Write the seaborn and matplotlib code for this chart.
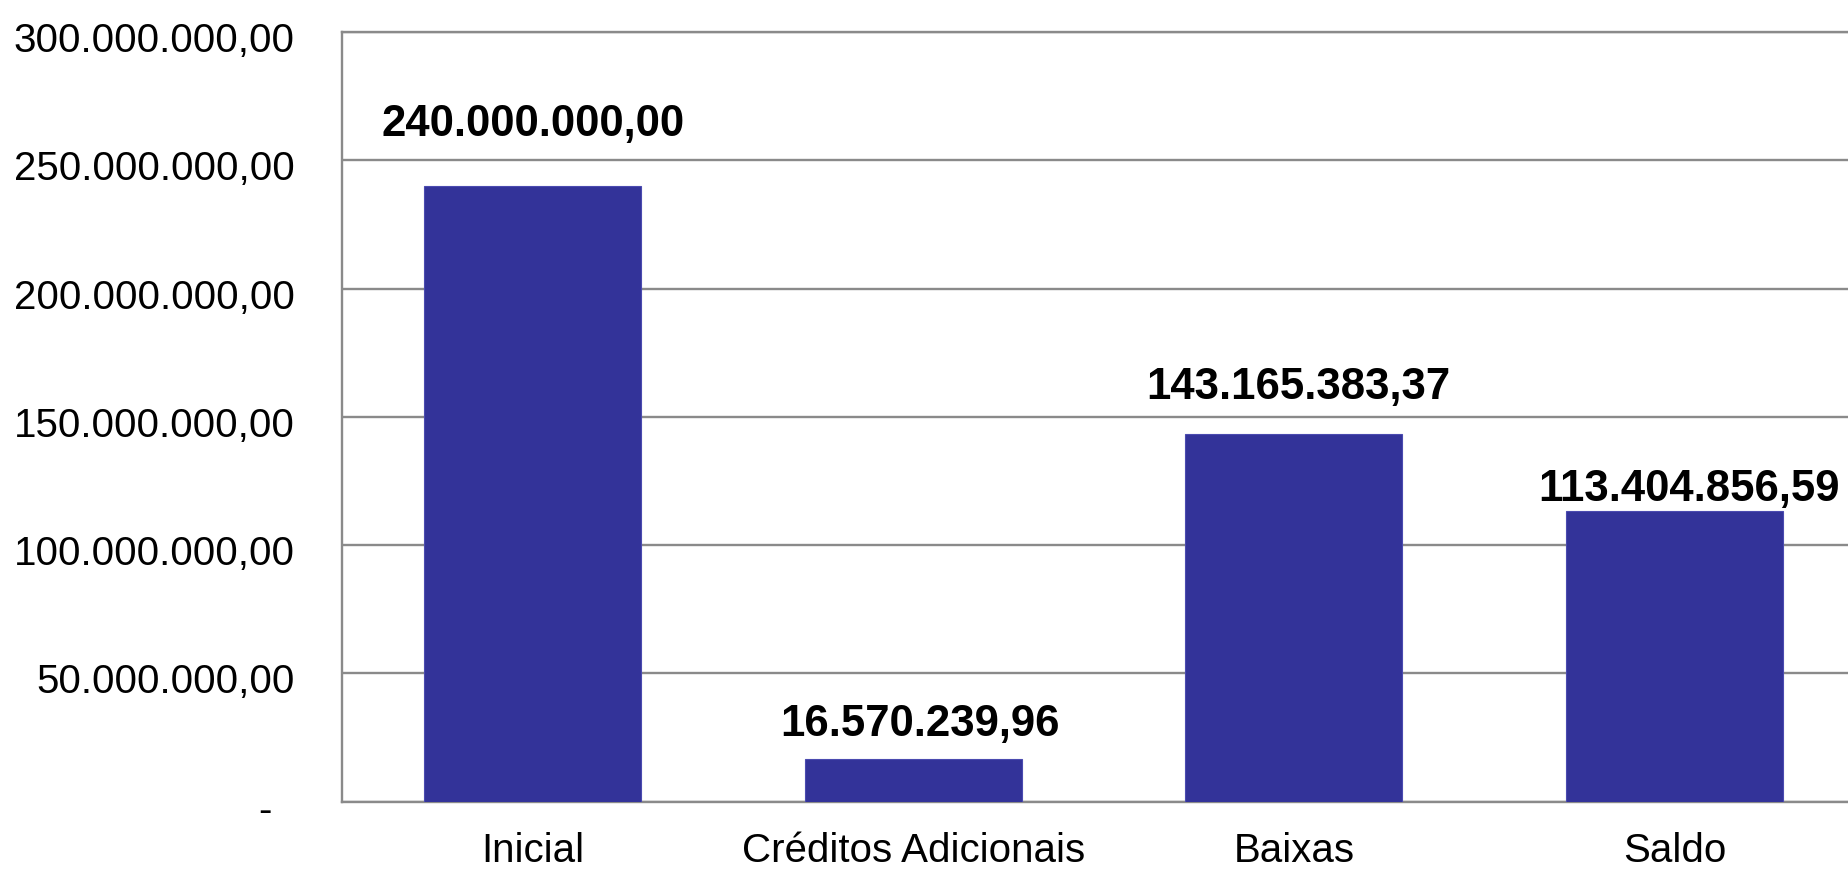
import matplotlib
matplotlib.use("Agg")
import matplotlib.pyplot as plt
import matplotlib.transforms as mtransforms
import seaborn as sns
import pandas as pd

# Budget execution figures (R$)
categories = ["Inicial", "Créditos Adicionais", "Baixas", "Saldo"]
values = [240000000.00, 16570239.96, 143165383.37, 113404856.59]
y_ticks = [0, 50000000, 100000000, 150000000, 200000000, 250000000, 300000000]

# Value-label nudges (pixels): horizontal shift and gap from bar top to baseline
label_dx = [1, 6.5, 4.5, 14.5]
label_gap = [49.7, 23.3, 35, 9.3]

BAR_COLOR = "#333399"
GRID_COLOR = "#8a8a8a"


def br_number(v):
    s = f"{v:,.2f}"
    return s.replace(",", "X").replace(".", ",").replace("X", ".")


sns.set_theme(style="white")
plt.rcParams["font.family"] = ["Liberation Sans", "DejaVu Sans"]

df = pd.DataFrame({"categoria": categories, "valor": values})

fig = plt.figure(figsize=(18.48, 8.69), dpi=100)
ax = fig.add_axes([342 / 1848, 1 - 801.7 / 869, 1523 / 1848, (801.7 - 32) / 869])

sns.barplot(data=df, x="categoria", y="valor", color=BAR_COLOR, width=0.57,
            saturation=1, edgecolor="#4b4bb0", linewidth=0.8, ax=ax, zorder=3)

ax.set_xlim(-0.5, 3.5)
ax.set_ylim(0, 300000000)
ax.set_yticks(y_ticks)
ax.set_yticklabels(["-\u2007"] + [br_number(t) for t in y_ticks[1:]])
ax.set_xlabel("")
ax.set_ylabel("")

ax.yaxis.grid(True, color=GRID_COLOR, linewidth=1.7, zorder=0)
ax.xaxis.grid(False)
ax.set_axisbelow(True)
for side in ["left", "bottom", "top"]:
    ax.spines[side].set_color(GRID_COLOR)
    ax.spines[side].set_linewidth(1.7)
ax.spines["right"].set_visible(False)

ax.tick_params(axis="y", length=0, pad=34, labelsize=29, labelcolor="black")
ax.tick_params(axis="x", length=0, pad=22, labelsize=29, labelcolor="black")

# shift y tick labels slightly down so digits sit centred on the grid lines
offset = mtransforms.ScaledTranslation(0, -5 / 100, fig.dpi_scale_trans)
for lbl in ax.get_yticklabels():
    lbl.set_transform(lbl.get_transform() + offset)

for i, v in enumerate(values):
    ax.annotate(br_number(v), xy=(i, v), xytext=(label_dx[i], label_gap[i]),
                textcoords="offset pixels", ha="center", va="baseline",
                fontsize=31.5, fontweight="bold", color="black")

fig.savefig("out.png", dpi=100, facecolor="white")
